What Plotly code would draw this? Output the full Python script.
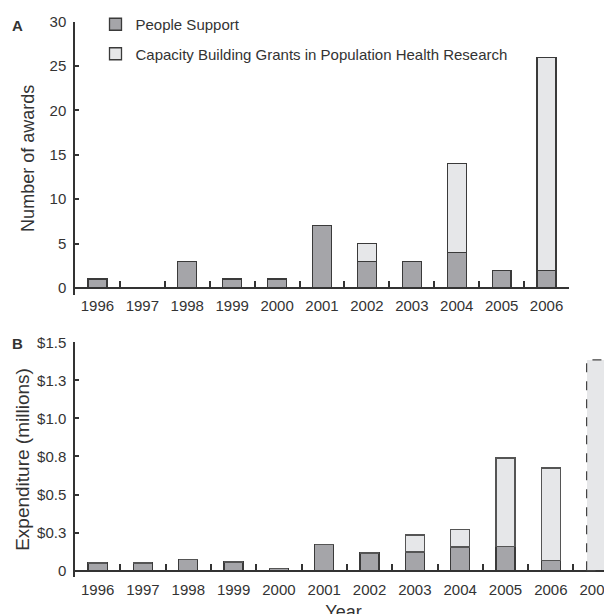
import plotly.graph_objects as go

# ---- data ----
years_awards = ['1996', '1997', '1998', '1999', '2000', '2001', '2002', '2003', '2004', '2005', '2006']
awards_people = [1, 0, 3, 1, 1, 7, 3, 3, 4, 2, 2]
awards_capacity = [0, 0, 0, 0, 0, 0, 2, 0, 10, 0, 24]

years_spend = ['1996', '1997', '1998', '1999', '2000', '2001', '2002', '2003', '2004', '2005', '2006', '2007']
spend_people = [0.05, 0.05, 0.075, 0.057, 0.015, 0.17, 0.116, 0.123, 0.156, 0.16, 0.068, None]
spend_capacity = [0, 0, 0, 0, 0, 0, 0, 0.112, 0.114, 0.58, 0.606, None]
spend_projected = [None, None, None, None, None, None, None, None, None, None, None, 1.384]

awards_ticks = [0, 5, 10, 15, 20, 25, 30]
spend_tickvals = [0, 0.25, 0.5, 0.75, 1.0, 1.25, 1.5]
spend_ticktext = ['0', '$0.3', '$0.5', '$0.8', '$1.0', '$1.3', '$1.5']

# ---- style ----
PEOPLE = '#a5a5a9'
CAPACITY = '#e6e7e9'
EDGE = '#3a3a3a'
AX = '#333333'
TXT = '#333333'
FONT = 'Liberation Sans, Arial, sans-serif'
BAR_GAP = 0.58

fig = go.Figure()
fig.add_trace(go.Bar(x=years_awards, y=awards_people, name='People Support',
                     marker=dict(color=PEOPLE, line=dict(color=EDGE, width=1.3)),
                     xaxis='x', yaxis='y', legendgroup='a'))
fig.add_trace(go.Bar(x=years_awards, y=awards_capacity,
                     name='Capacity Building Grants in Population Health Research',
                     marker=dict(color=CAPACITY, line=dict(color=EDGE, width=1.3)),
                     xaxis='x', yaxis='y', legendgroup='b'))
fig.add_trace(go.Bar(x=years_spend, y=spend_people, name='People Support',
                     marker=dict(color=PEOPLE, line=dict(color=EDGE, width=1.3)),
                     xaxis='x2', yaxis='y2', showlegend=False, legendgroup='a'))
fig.add_trace(go.Bar(x=years_spend, y=spend_capacity,
                     name='Capacity Building Grants in Population Health Research',
                     marker=dict(color=CAPACITY, line=dict(color='#555555', width=1.2)),
                     xaxis='x2', yaxis='y2', showlegend=False, legendgroup='b'))
fig.add_trace(go.Bar(x=years_spend, y=spend_projected, name='Projected',
                     marker=dict(color=CAPACITY, line=dict(width=0)),
                     xaxis='x2', yaxis='y2', showlegend=False, legendgroup='b'))

# dashed outline of projected 2007 bar
idx = years_spend.index('2007')
half = (1 - BAR_GAP) / 2
fig.add_shape(type='rect', xref='x2', yref='y2', x0=idx - half, x1=idx + half,
              y0=0, y1=spend_projected[idx],
              line=dict(color='#444444', width=1.2, dash='dash'), fillcolor='rgba(0,0,0,0)')

# page has an 8px body margin
OFF = 8
W, H = 612 - OFF, 614
L = 75 - OFF
PW = W - L


def py(p):
    """screen y pixel -> paper fraction"""
    return 1 - (p - OFF) / H


axis_common = dict(showline=True, linecolor=AX, linewidth=1.5, showgrid=False, zeroline=False,
                   ticks='inside', tickcolor=AX, tickwidth=1.5, tickangle=0,
                   tickfont=dict(family=FONT, size=15, color=TXT), automargin=False)

fig.update_layout(
    width=W, height=H, template='none',
    margin=dict(l=L, r=0, t=0, b=0, autoexpand=False),
    paper_bgcolor='white', plot_bgcolor='white',
    barmode='stack', bargap=BAR_GAP,
    font=dict(family=FONT, color=TXT),
    xaxis=dict(axis_common, type='category', categoryorder='array', categoryarray=years_awards,
               domain=[0, (569 - 75) / PW], anchor='free', position=py(288),
               range=[-0.5, 10.5], tickson='boundaries', ticklen=6, ticklabelstandoff=4),
    yaxis=dict(axis_common, domain=[py(295), py(21.7)], anchor='x',
               range=[-0.79, 30], tickvals=awards_ticks, ticklen=4, ticklabelstandoff=4,
               title=dict(text='Number of awards', font=dict(family=FONT, size=18, color=TXT), standoff=10)),
    xaxis2=dict(axis_common, type='category', categoryorder='array', categoryarray=years_spend,
                domain=[0, 1], anchor='free', position=py(570.7),
                range=[-0.5, 11.35], tickson='boundaries', ticklen=6, ticklabelstandoff=6,
                title=dict(text='Year', font=dict(family=FONT, size=18, color=TXT), standoff=9)),
    yaxis2=dict(axis_common, domain=[py(576.7), py(342.3)], anchor='x2',
                range=[-0.0395, 1.5], tickvals=spend_tickvals, ticktext=spend_ticktext,
                ticklen=4, ticklabelstandoff=4,
                title=dict(text='Expenditure (millions)', font=dict(family=FONT, size=19, color=TXT), standoff=2)),
    legend=dict(x=20.5 / PW, y=1, xanchor='left', yanchor='top',
                font=dict(family=FONT, size=15, color=TXT), bgcolor='rgba(0,0,0,0)',
                tracegroupgap=7, traceorder='grouped'),
    showlegend=True,
    annotations=[
        dict(text='<b>A</b>', xref='paper', yref='paper', x=(17.5 - 75) / PW, y=py(25),
             xanchor='center', yanchor='middle',
             showarrow=False, font=dict(family=FONT, size=15, color=TXT)),
        dict(text='<b>B</b>', xref='paper', yref='paper', x=(17.5 - 75) / PW, y=py(343),
             xanchor='center', yanchor='middle',
             showarrow=False, font=dict(family=FONT, size=15, color=TXT)),
    ],
)

fig.write_html('out.html')
